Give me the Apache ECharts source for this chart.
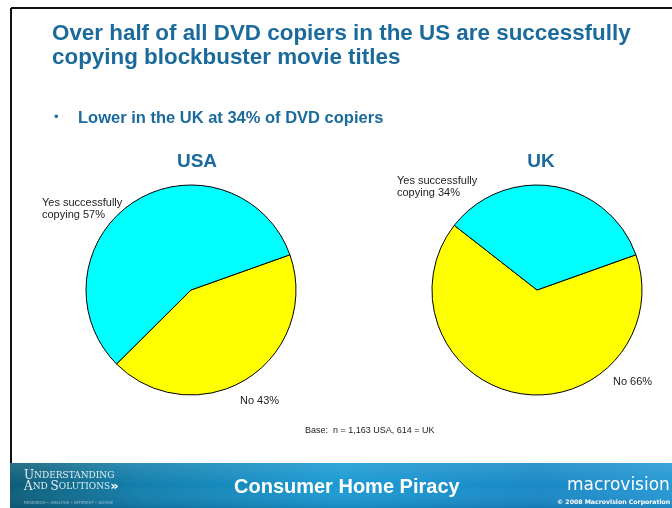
<!DOCTYPE html>
<html>
<head>
<meta charset="utf-8">
<script src="https://cdn.jsdelivr.net/npm/echarts@6/dist/echarts.min.js"></script>
<style>html,body{margin:0;padding:0;background:#fff}#c{width:672px;height:508px}</style>
</head>
<body>
<div id="c"></div>
<script>
// ---- data ----
var titleLines = ['Over half of all DVD copiers in the US are successfully', 'copying blockbuster movie titles'];
var bulletText = 'Lower in the UK at 34% of DVD copiers';
var pieTitles = ['USA', 'UK'];
var categories = ['No', 'Yes successfully\ncopying'];
var usaValues = [43, 57];
var ukValues = [66, 34];
var baseNote = 'Base:  n = 1,163 USA, 614 = UK';
var footerTitle = 'Consumer Home Piracy';

// ---- layout (label anchors) ----
var labelPos = [
  [{x: 240, y: 401}, {x: 42, y: 209}],
  [{x: 613, y: 382}, {x: 397, y: 187}]
];
var blue = '#1B6A9C';
var chart = echarts.init(document.getElementById('c'), null, {renderer: 'canvas'});

function makePie(values, center, si) {
  return {
    type: 'pie',
    center: center,
    radius: 105,
    startAngle: 19.6,
    clockwise: true,
    animation: false,
    silent: true,
    data: categories.map(function (c, i) { return {name: c, value: values[i]}; }),
    itemStyle: {borderColor: '#000', borderWidth: 1},
    label: {
      show: true, position: 'outside', overflow: 'none', width: 200,
      formatter: function (p) { return p.name + ' ' + p.value + '%'; },
      fontFamily: 'Liberation Sans, Arial, sans-serif', fontSize: 11, color: '#222', lineHeight: 12
    },
    labelLine: {show: false},
    labelLayout: function (p) {
      var q = labelPos[si][p.dataIndex];
      return {x: q.x, y: q.y, align: 'left', verticalAlign: 'middle'};
    }
  };
}

var font = 'Liberation Sans, Arial, sans-serif';
chart.setOption({
  animation: false,
  color: ['#FFFF00', '#00FFFF'],
  title: [
    {text: titleLines.join('\n'), left: 52, top: 22, padding: 0, textStyle: {fontFamily: font, fontSize: 22.4, fontWeight: 'bold', color: blue, lineHeight: 24}},
    {text: '•', left: 54, top: 111, padding: 0, textStyle: {fontFamily: font, fontSize: 13, fontWeight: 'normal', color: blue}},
    {text: bulletText, left: 78, top: 110, padding: 0, textStyle: {fontFamily: font, fontSize: 16.5, fontWeight: 'bold', color: blue}},
    {text: pieTitles[0], left: 197, top: 152, padding: 0, textAlign: 'center', textStyle: {fontFamily: font, fontSize: 19, fontWeight: 'bold', color: blue}},
    {text: pieTitles[1], left: 541, top: 152, padding: 0, textAlign: 'center', textStyle: {fontFamily: font, fontSize: 19, fontWeight: 'bold', color: blue}},
    {text: baseNote, left: 305, top: 426, padding: 0, textStyle: {fontFamily: font, fontSize: 9, fontWeight: 'normal', color: '#222'}}
  ],
  graphic: [
    {type: 'line', shape: {x1: 11, y1: 8, x2: 672, y2: 8}, style: {stroke: '#111', lineWidth: 2}},
    {type: 'line', shape: {x1: 11, y1: 8, x2: 11, y2: 465}, style: {stroke: '#111', lineWidth: 2}},
    {type: 'rect', shape: {x: 10, y: 463, width: 662, height: 45}, style: {
      fill: new echarts.graphic.LinearGradient(0, 0, 1, 0, [
        {offset: 0, color: '#0C5D76'}, {offset: 0.2, color: '#127FAE'}, {offset: 0.5, color: '#1B9AD4'}, {offset: 0.8, color: '#1888C6'}, {offset: 1, color: '#2598D4'}
      ])}},
    {type: 'rect', shape: {x: 10, y: 463, width: 662, height: 45}, style: {
      fill: new echarts.graphic.LinearGradient(0, 0, 0, 1, [
        {offset: 0, color: 'rgba(255,255,255,0.12)'}, {offset: 0.5, color: 'rgba(255,255,255,0)'}, {offset: 1, color: 'rgba(0,40,80,0.15)'}
      ])}},
    {type: 'text', left: 24, top: 470, style: {
      text: '{b|U}{s|NDERSTANDING}\n{b|A}{s|ND }{b|S}{s|OLUTIONS}{a|\u00bb}',
      fill: '#e6edf1', lineHeight: 11,
      rich: {
        b: {font: '12px "DejaVu Serif", serif', fill: '#e6edf1', lineHeight: 11},
        s: {font: '9px "DejaVu Serif", serif', fill: '#e6edf1', lineHeight: 11},
        a: {font: 'bold 13px "DejaVu Sans", sans-serif', fill: '#ffffff', lineHeight: 11}
      }}},
    {type: 'text', left: 24, top: 501, style: {text: 'RESEARCH \u2022 ANALYSIS \u2022 INTEREST \u2022 ADVISE', fill: 'rgba(220,235,240,0.6)', font: '4px "DejaVu Sans", sans-serif'}},
    {type: 'text', left: 234, top: 477, style: {text: footerTitle, fill: '#fff', font: 'bold 20px ' + font}},
    {type: 'text', left: 567, top: 477, style: {text: 'macrovision', fill: '#fff', font: '17px "DejaVu Sans", sans-serif'}},
    {type: 'text', left: 557, top: 499, style: {text: '\u00a9 2008 Macrovision Corporation', fill: '#fff', font: 'bold 6.2px "DejaVu Sans", sans-serif'}}
  ],
  series: [
    makePie(usaValues, [191, 290], 0),
    makePie(ukValues, [537, 290], 1)
  ]
});
</script>
</body>
</html>
